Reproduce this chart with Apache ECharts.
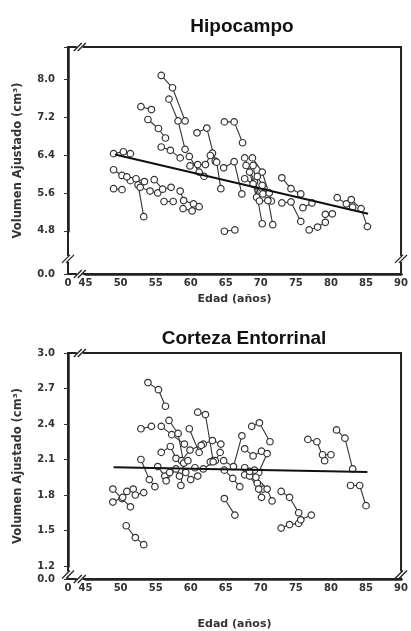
<!DOCTYPE html>
<html>
<head>
<meta charset="utf-8">
<script src="https://cdn.jsdelivr.net/npm/echarts@6.0.0/dist/echarts.min.js"></script>
<style>
  html, body { margin: 0; padding: 0; background: #fff; }
  #chart { width: 411px; height: 631px; }
</style>
</head>
<body>
<div id="chart"></div>
<script>
// tick labels
const xTicks = [0, 45, 50, 55, 60, 65, 70, 75, 80, 85, 90];
const hipYTicks = [0, 4.8, 5.6, 6.4, 7.2, 8.0];
const ecYTicks = [0, 1.2, 1.5, 1.8, 2.1, 2.4, 2.7, 3.0];

// Hipocampo: one array per subject, [edad, volumen]
const hipSubjects = [
  [[55.8, 8.08], [57.4, 7.82], [59.2, 7.12]],
  [[56.9, 7.58], [58.2, 7.12], [59.2, 6.52]],
  [[52.9, 7.42], [54.4, 7.36]],
  [[53.9, 7.15], [55.4, 6.96], [56.4, 6.76]],
  [[55.8, 6.57], [57.1, 6.50], [58.5, 6.34]],
  [[49.0, 6.43], [50.4, 6.47], [51.4, 6.43]],
  [[49.0, 6.09], [50.2, 5.97], [51.4, 5.86]],
  [[50.9, 5.94], [52.2, 5.90], [53.4, 5.84]],
  [[52.5, 5.77], [53.3, 5.10]],
  [[52.8, 5.72], [54.2, 5.64], [55.3, 5.60]],
  [[54.8, 5.88], [56.0, 5.68], [57.2, 5.72]],
  [[56.2, 5.42], [57.5, 5.42]],
  [[58.5, 5.64], [59.0, 5.44], [60.4, 5.37]],
  [[58.9, 5.27], [60.2, 5.22], [61.2, 5.31]],
  [[49.0, 5.69], [50.2, 5.67]],
  [[60.9, 6.87], [62.3, 6.97], [63.5, 6.27]],
  [[63.1, 6.44], [63.7, 6.25], [64.3, 5.69]],
  [[59.8, 6.37], [61.2, 6.04], [61.9, 5.95]],
  [[59.9, 6.17], [61.0, 6.20], [62.1, 6.20], [62.8, 6.39]],
  [[64.7, 6.13], [66.2, 6.26], [67.3, 5.58]],
  [[64.8, 7.10], [66.2, 7.10], [67.4, 6.66]],
  [[67.7, 6.34], [69.1, 5.83], [70.2, 4.95]],
  [[68.8, 6.34], [70.2, 6.04], [71.5, 5.43]],
  [[70.9, 5.57], [71.7, 4.93]],
  [[67.9, 6.18], [68.4, 6.04], [69.4, 5.51]],
  [[68.9, 6.18], [69.8, 5.43], [71.0, 5.44]],
  [[67.7, 5.90], [68.9, 5.79], [70.3, 5.58]],
  [[69.5, 5.95], [70.2, 5.76], [71.2, 5.60]],
  [[73.0, 5.92], [74.3, 5.69], [75.7, 5.58]],
  [[73.0, 5.39], [74.3, 5.41], [75.7, 5.00]],
  [[76.0, 5.29], [77.3, 5.39]],
  [[76.9, 4.82], [78.1, 4.88], [79.2, 4.98]],
  [[79.2, 5.15], [80.2, 5.16]],
  [[80.9, 5.50], [82.2, 5.37], [83.1, 5.30]],
  [[82.9, 5.46], [84.3, 5.27], [85.2, 4.89]],
  [[64.8, 4.76], [66.3, 4.82]]
];
const hipTrend = [[49.2, 6.41], [85.3, 5.16]];

// Corteza Entorrinal
const ecSubjects = [
  [[53.9, 2.75], [55.4, 2.69], [56.4, 2.55]],
  [[52.9, 2.36], [54.4, 2.38]],
  [[55.8, 2.38], [57.3, 2.31], [59.1, 2.23]],
  [[56.9, 2.43], [58.2, 2.32], [59.0, 2.07]],
  [[61.0, 2.50], [62.1, 2.48], [63.2, 2.09]],
  [[59.8, 2.36], [61.2, 2.16]],
  [[61.8, 2.23], [63.1, 2.26], [64.3, 2.23]],
  [[62.8, 2.08], [63.5, 2.09], [64.2, 2.16]],
  [[68.7, 2.38], [69.8, 2.41], [71.3, 2.25]],
  [[67.7, 2.19], [68.9, 2.13], [70.1, 2.17]],
  [[69.7, 1.99], [70.9, 2.15]],
  [[67.7, 2.03], [69.1, 2.01], [69.5, 1.90], [70.3, 1.85]],
  [[67.7, 1.97], [68.4, 1.96], [69.7, 1.85], [70.1, 1.78]],
  [[68.4, 2.00], [69.3, 1.95], [70.9, 1.85], [71.6, 1.75]],
  [[64.8, 2.01], [66.0, 1.94], [67.0, 1.87]],
  [[64.8, 1.77], [66.3, 1.63]],
  [[72.9, 1.83], [74.1, 1.78], [75.4, 1.65]],
  [[72.9, 1.52], [74.1, 1.55], [75.4, 1.56]],
  [[75.7, 1.59], [77.2, 1.63]],
  [[76.7, 2.27], [78.0, 2.25], [79.1, 2.09]],
  [[78.8, 2.14], [80.0, 2.14]],
  [[80.8, 2.35], [82.0, 2.28], [83.1, 2.02]],
  [[82.8, 1.88], [84.1, 1.88], [85.0, 1.71]],
  [[48.9, 1.85], [50.2, 1.77], [51.4, 1.70]],
  [[48.9, 1.74], [50.3, 1.78], [50.9, 1.83]],
  [[51.8, 1.85], [52.1, 1.80], [53.3, 1.82]],
  [[50.8, 1.54], [52.1, 1.44], [53.3, 1.38]],
  [[55.8, 2.16], [57.1, 2.21], [57.9, 2.11]],
  [[58.7, 2.09], [59.9, 2.18], [61.5, 2.22]],
  [[52.9, 2.10], [54.1, 1.93], [54.9, 1.87]],
  [[55.3, 2.04], [56.3, 1.96], [57.0, 1.99]],
  [[56.5, 1.92], [57.9, 2.02], [58.4, 1.96]],
  [[58.6, 1.88], [59.0, 2.07], [59.6, 2.09]],
  [[59.3, 1.99], [60.0, 1.93], [61.0, 1.96]],
  [[60.6, 2.03], [61.8, 2.02], [63.2, 2.08]],
  [[64.7, 2.09], [66.1, 2.04], [67.3, 2.30]]
];
const ecTrend = [[49.0, 2.035], [85.2, 1.995]];

const FONT = 'DejaVu Sans, Verdana, sans-serif';
const TITLE_FONT = 'Liberation Sans, Arial, sans-serif';
const INK = '#333';

const inList = (list, v) => list.some(t => Math.abs(t - v) < 1e-6);

function xAxisFor(gridIndex) {
  return {
    gridIndex,
    type: 'value',
    min: 0,
    max: 90,
    interval: 5,
    breaks: [{ start: 0, end: 45, gap: 2.5 }],
    breakArea: { show: false },
    name: 'Edad (años)',
    nameLocation: 'middle',
    nameGap: gridIndex === 0 ? 20 : 40,
    nameTextStyle: { fontFamily: FONT, fontWeight: 'bold', fontSize: 11, color: INK },
    axisLine: { show: true, onZero: false, lineStyle: { color: '#222', width: 2.5 } },
    axisTick: { show: false },
    splitLine: { show: false },
    axisLabel: {
      margin: 4,
      fontFamily: FONT, fontWeight: 'bold', fontSize: 10, color: INK,
      formatter: v => (inList(xTicks, v) ? String(Math.round(v)) : '')
    }
  };
}

function yAxisFor(gridIndex, min, max, interval, brk, ticks) {
  return {
    gridIndex,
    type: 'value',
    min, max, interval,
    breaks: [brk],
    breakArea: { show: false },
    name: 'Volumen Ajustado (cm³)',
    nameLocation: 'middle',
    nameGap: 44,
    nameTextStyle: { fontFamily: FONT, fontWeight: 'bold', fontSize: 11.5, color: INK },
    axisLine: { show: true, onZero: false, lineStyle: { color: '#222', width: 2.5 } },
    axisTick: { show: true, length: 4, lineStyle: { color: INK } },
    splitLine: { show: false },
    axisLabel: {
      margin: 13,
      fontFamily: FONT, fontWeight: 'bold', fontSize: 10, color: INK,
      formatter: v => (inList(ticks, v) ? v.toFixed(1) : '')
    }
  };
}

function subjectSeries(data, idx) {
  return {
    type: 'line',
    xAxisIndex: idx,
    yAxisIndex: idx,
    data,
    symbol: 'circle',
    symbolSize: 6.5,
    itemStyle: { color: '#fff', borderColor: '#333', borderWidth: 1.2 },
    lineStyle: { color: '#333', width: 1.1 },
    silent: true,
    z: 3
  };
}

function trendSeries(data, idx) {
  return {
    type: 'line',
    xAxisIndex: idx,
    yAxisIndex: idx,
    data,
    symbol: 'none',
    lineStyle: { color: '#111', width: 2 },
    silent: true,
    z: 4
  };
}

const chart = echarts.init(document.getElementById('chart'));
chart.setOption({
  animation: false,
  backgroundColor: '#fff',
  title: [
    { text: 'Hipocampo', left: 237, top: 12, textAlign: 'center',
      textStyle: { fontFamily: TITLE_FONT, fontWeight: 'bold', fontSize: 19, color: '#111' } },
    { text: 'Corteza Entorrinal', left: 239, top: 324, textAlign: 'center',
      textStyle: { fontFamily: TITLE_FONT, fontWeight: 'bold', fontSize: 19, color: '#111' } }
  ],
  grid: [
    { left: 68, right: 4, top: 47, height: 227, show: true, borderColor: '#222', borderWidth: 2, backgroundColor: 'transparent' },
    { left: 68, right: 4, top: 353, height: 228, show: true, borderColor: '#222', borderWidth: 2, backgroundColor: 'transparent' }
  ],
  xAxis: [xAxisFor(0), xAxisFor(1)],
  yAxis: [
    yAxisFor(0, 0, 8.68, 0.8, { start: 0, end: 4.8, gap: 0.91 }, hipYTicks),
    yAxisFor(1, 0, 3.0, 0.3, { start: 0, end: 1.2, gap: 0.11 }, ecYTicks)
  ],
  series: [
    ...hipSubjects.map(d => subjectSeries(d, 0)),
    trendSeries(hipTrend, 0),
    ...ecSubjects.map(d => subjectSeries(d, 1)),
    trendSeries(ecTrend, 1)
  ]
});

// "//" break marks where the axes and the frame are broken
function breakMark(cx, cy) {
  const s = 4;
  return [
    { type: 'rect', shape: { x: cx - 3, y: cy - 3, width: 6, height: 6 }, style: { fill: '#fff' }, z: 100 },
    { type: 'line', shape: { x1: cx - s - 2, y1: cy + s, x2: cx + s - 2, y2: cy - s }, style: { stroke: '#222', lineWidth: 1.3 }, z: 101 },
    { type: 'line', shape: { x1: cx - s + 2, y1: cy + s, x2: cx + s + 2, y2: cy - s }, style: { stroke: '#222', lineWidth: 1.3 }, z: 101 }
  ];
}
const marks = [];
[[0, 4.8], [1, 1.2]].forEach(([g, yEnd]) => {
  const rect = chart.getModel().getComponent('grid', g).coordinateSystem.getRect();
  const p0 = chart.convertToPixel({ gridIndex: g }, [0, 0]);
  const p1 = chart.convertToPixel({ gridIndex: g }, [45, yEnd]);
  const bx = (p0[0] + p1[0]) / 2 + 3;
  const by = p0[1] + (p1[1] - p0[1]) * 0.35;
  marks.push(...breakMark(rect.x, by));
  marks.push(...breakMark(rect.x + rect.width, by));
  marks.push(...breakMark(bx, rect.y));
  marks.push(...breakMark(bx, rect.y + rect.height));
});
chart.setOption({ graphic: marks });
</script>
</body>
</html>
